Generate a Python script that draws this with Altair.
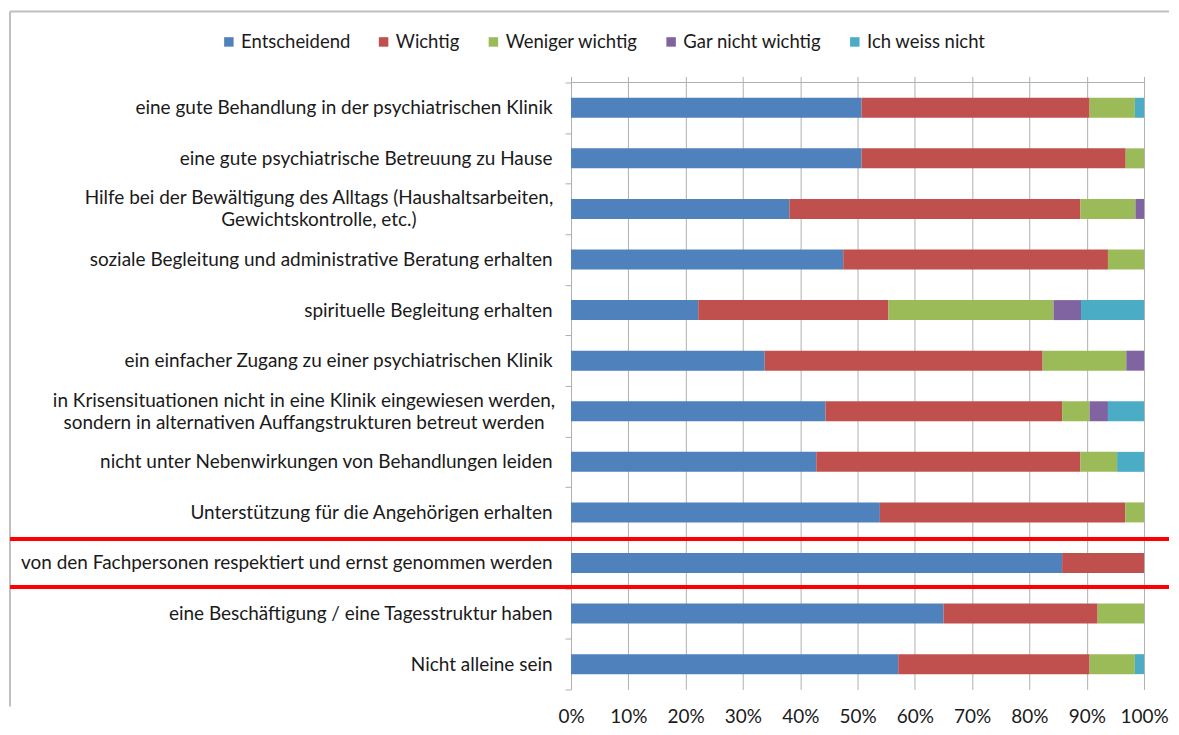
import altair as alt
import pandas as pd

categories = [
    "eine gute Behandlung in der psychiatrischen Klinik",
    "eine gute psychiatrische Betreuung zu Hause",
    "Hilfe bei der Bewältigung des Alltags (Haushaltsarbeiten,|Gewichtskontrolle, etc.)",
    "soziale Begleitung und administrative Beratung erhalten",
    "spirituelle Begleitung erhalten",
    "ein einfacher Zugang zu einer psychiatrischen Klinik",
    "in Krisensituationen nicht in eine Klinik eingewiesen werden,|sondern in alternativen Auffangstrukturen betreut werden",
    "nicht unter Nebenwirkungen von Behandlungen leiden",
    "Unterstützung für die Angehörigen erhalten",
    "von den Fachpersonen respektiert und ernst genommen werden",
    "eine Beschäftigung / eine Tagesstruktur haben",
    "Nicht alleine sein",
]
series = ["Entscheidend", "Wichtig", "Weniger wichtig", "Gar nicht wichtig", "Ich weiss nicht"]
entscheidend = [50.7, 50.7, 38.1, 47.5, 22.2, 33.8, 44.4, 42.8, 53.9, 85.7, 65.0, 57.1]
wichtig = [39.8, 46.1, 50.8, 46.2, 33.2, 48.5, 41.3, 46.1, 42.8, 14.3, 26.9, 33.4]
weniger_wichtig = [7.9, 3.2, 9.6, 6.3, 28.8, 14.6, 4.8, 6.4, 3.3, 0.0, 8.1, 7.9]
gar_nicht_wichtig = [0.0, 0.0, 1.5, 0.0, 4.8, 3.1, 3.2, 0.0, 0.0, 0.0, 0.0, 0.0]
weiss_nicht = [1.6, 0.0, 0.0, 0.0, 11.0, 0.0, 6.3, 4.7, 0.0, 0.0, 0.0, 1.6]
colors = ["#4F81BD", "#C0504D", "#9BBB59", "#8064A2", "#4BACC6"]
x_ticks = [0, 10, 20, 30, 40, 50, 60, 70, 80, 90, 100]
highlight = [categories[9]]

FONT = "Lato"
FS = 19
GRID = "#B0B0B0"
TXT = "#1a1a1a"
W, H = 574, 608

rows = []
for s_i, (name, vals) in enumerate(zip(series, [entscheidend, wichtig, weniger_wichtig,
                                                 gar_nicht_wichtig, weiss_nicht])):
    for c, v in zip(categories, vals):
        if v > 0:
            rows.append({"Kategorie": c, "Antwort": name, "Wert": v, "idx": s_i})
df = pd.DataFrame(rows)

two_line = "indexof(datum.label, '|') >= 0"
y_axis = alt.Axis(
    title=None, labelExpr="split(datum.label, '|')",
    tickBand="extent", ticks=True, tickSize=6, tickColor=GRID,
    domain=True, domainColor=GRID,
    labelAlign={"condition": {"test": two_line, "value": "center"}, "value": "right"},
    labelPadding={"condition": [
        {"test": "indexof(datum.label, 'Hilfe') >= 0", "value": 247},
        {"test": "indexof(datum.label, 'Krisen') >= 0", "value": 262}],
        "value": 13},
    labelOffset={"condition": {"test": two_line, "value": -11}, "value": 0},
    labelLimit=700, labelFont=FONT, labelFontSize=FS,
    labelColor=TXT, labelLineHeight=22, grid=False)
y_scale = alt.Scale(paddingInner=0, paddingOuter=0)

bars = alt.Chart(df).mark_bar(height={"band": 0.395}).encode(
    y=alt.Y("Kategorie:N", sort=categories, scale=y_scale, axis=y_axis),
    x=alt.X("Wert:Q", stack="zero", scale=alt.Scale(domain=[0, 100], nice=False),
            axis=alt.Axis(title=None, values=x_ticks, labelExpr="datum.value + '%'",
                          grid=True, gridColor=GRID, domain=False, ticks=False,
                          labelFlush=False, labelPadding=18, labelFont=FONT,
                          labelFontSize=FS, labelColor=TXT)),
    color=alt.Color("Antwort:N", sort=series,
                    scale=alt.Scale(domain=series, range=colors),
                    legend=alt.Legend(title=None, orient="none", legendX=-352, legendY=-50,
                                      direction="horizontal", symbolType="square",
                                      symbolSize=90, symbolStrokeWidth=0,
                                      labelFont=FONT, labelFontSize=18.5, labelColor=TXT,
                                      columnPadding=24, labelOffset=3)),
    order=alt.Order("idx:Q"),
)

top_line = alt.Chart(pd.DataFrame({"a": [0], "b": [100]})).mark_rule(
    color=GRID, strokeWidth=1).encode(
    x=alt.X("a:Q", axis=alt.Axis(orient="top", labels=False, ticks=True, tickSize=6,
                                 tickColor=GRID, domain=False, grid=False, title=None,
                                 values=x_ticks)),
    x2="b:Q",
    y=alt.value(0),
)

hl = pd.DataFrame({"Kategorie": highlight})
red_top = alt.Chart(hl).mark_rule(color="#FF0000", strokeWidth=4, yOffset=-24).encode(
    y=alt.Y("Kategorie:N", sort=categories, scale=y_scale, axis=y_axis),
    x=alt.value(-562), x2=alt.value(W + 25))
red_bot = alt.Chart(hl).mark_rule(color="#FF0000", strokeWidth=4, yOffset=24).encode(
    y=alt.Y("Kategorie:N", sort=categories, scale=y_scale, axis=y_axis),
    x=alt.value(-562), x2=alt.value(W + 25))

frame = pd.DataFrame({"a": [0]})
border_left = alt.Chart(frame).mark_rule(color="#BFBFBF", strokeWidth=2).encode(
    x=alt.value(-562), y=alt.value(-71), y2=alt.value(625))
border_top = alt.Chart(frame).mark_rule(color="#BFBFBF", strokeWidth=2).encode(
    x=alt.value(-562), x2=alt.value(W + 25), y=alt.value(-71))

chart = alt.layer(
    border_left, border_top, bars, top_line, red_top, red_bot
).resolve_axis(x="independent").properties(
    width=W, height=H,
    padding={"left": 0, "top": 2, "right": 0, "bottom": 0},
    background="white",
).configure_view(stroke=None)

chart.save("out.html", embed_options={"renderer": "svg", "actions": False})
